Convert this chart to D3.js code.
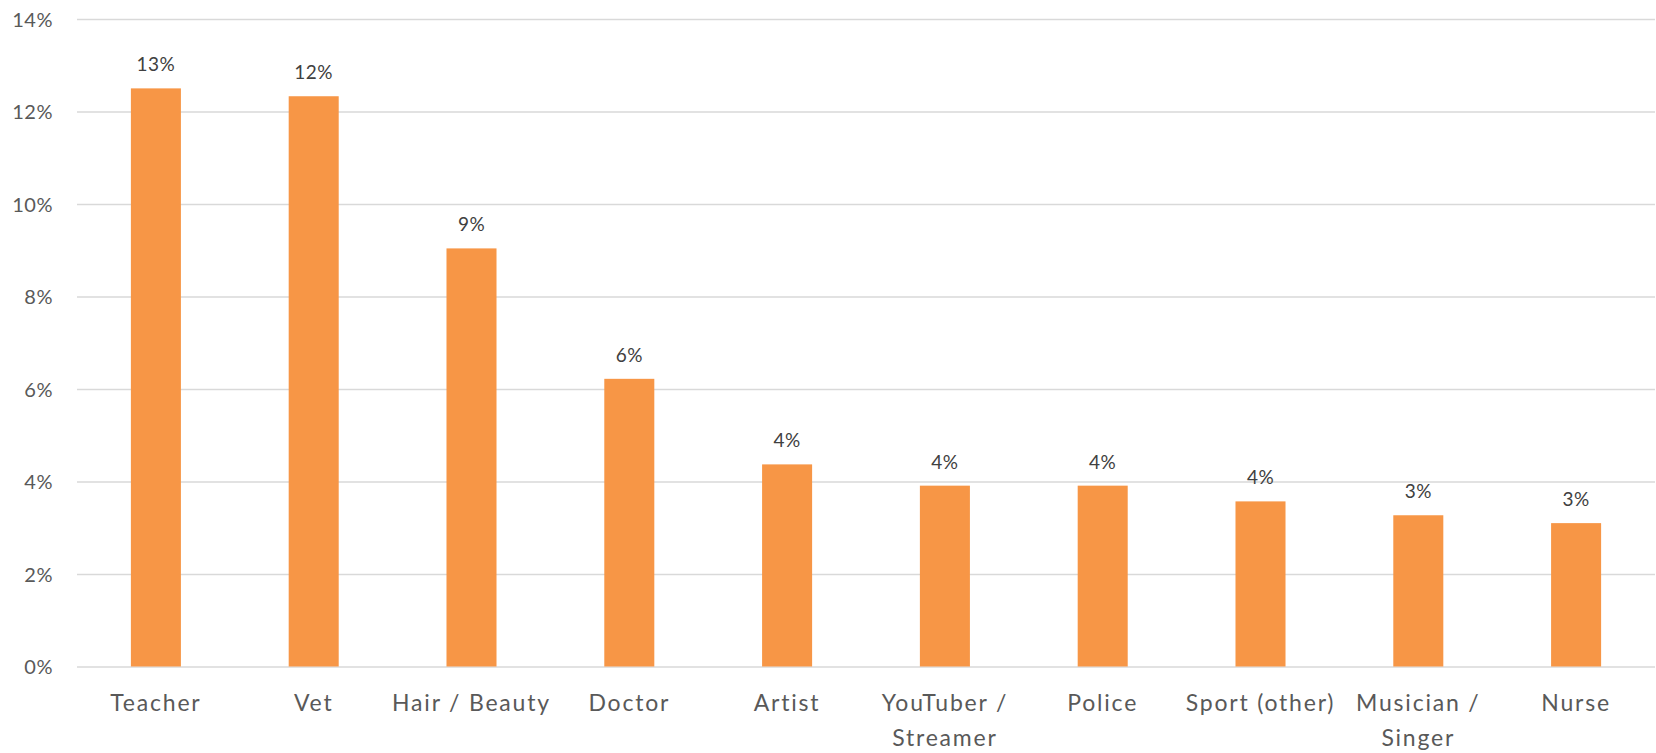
<!DOCTYPE html>
<html><head><meta charset="utf-8">
<script src="https://cdn.jsdelivr.net/npm/d3@7"></script>
<style>body{margin:0;background:#fff}svg{display:block}text{font-family:Lato,"Open Sans",sans-serif}</style>
</head><body>
<svg id="c" width="1656" height="753"></svg>
<script>
(function(){
const categories = ["Teacher","Vet","Hair / Beauty","Doctor","Artist","YouTuber / Streamer","Police","Sport (other)","Musician / Singer","Nurse"];
const categoryLines = [["Teacher"],["Vet"],["Hair / Beauty"],["Doctor"],["Artist"],["YouTuber /","Streamer"],["Police"],["Sport (other)"],["Musician /","Singer"],["Nurse"]];
const values = [12.5, 12.33, 9.04, 6.22, 4.37, 3.91, 3.91, 3.57, 3.27, 3.10];
const yTicks = [0, 2, 4, 6, 8, 10, 12, 14];

const svg = d3.select("#c");
const mLeft = 77, mRight = 1655, mTop = 19, mBottom = 666.5;
const x = d3.scaleBand().domain(categories).range([mLeft, mRight]).paddingInner(0.683).paddingOuter(0.3415);
const y = d3.scaleLinear().domain([0, 14]).range([mBottom, mTop]);

const yAxis = d3.axisLeft(y).tickValues(yTicks).tickFormat(d => d + "%").tickSize(-(mRight-mLeft)).tickPadding(24);
const gy = svg.append("g").attr("transform", `translate(${mLeft},0)`).call(yAxis);
gy.select(".domain").remove();
gy.selectAll(".tick line").attr("stroke", "#d9d9d9").attr("stroke-width", 1.5);
gy.selectAll(".tick text").attr("fill", "#595959").attr("font-size", 20).attr("letter-spacing", "0.5px").attr("dy", "0.35em");

svg.append("g").selectAll("rect").data(values).join("rect")
  .attr("x", (d,i) => x(categories[i]))
  .attr("y", d => y(d))
  .attr("width", x.bandwidth())
  .attr("height", d => y(0) - y(d))
  .attr("fill", "#f79646");

svg.append("g").selectAll("text").data(values).join("text")
  .attr("x", (d,i) => x(categories[i]) + x.bandwidth()/2)
  .attr("y", d => y(d) - 17)
  .attr("text-anchor", "middle")
  .attr("fill", "#404040")
  .attr("font-size", 19)
  .attr("letter-spacing", "0.5px")
  .text(d => Math.round(d) + "%");

const gx = svg.append("g");
categories.forEach((c, i) => {
  const t = gx.append("text")
    .attr("x", x(c) + x.bandwidth()/2)
    .attr("y", 711)
    .attr("text-anchor", "middle")
    .attr("fill", "#595959")
    .attr("font-size", 23)
    .attr("letter-spacing", "1.8px");
  categoryLines[i].forEach((ln, j) => {
    t.append("tspan").attr("x", x(c) + x.bandwidth()/2).attr("dy", j === 0 ? 0 : 35).text(ln);
  });
});
})();
</script>
</body></html>
